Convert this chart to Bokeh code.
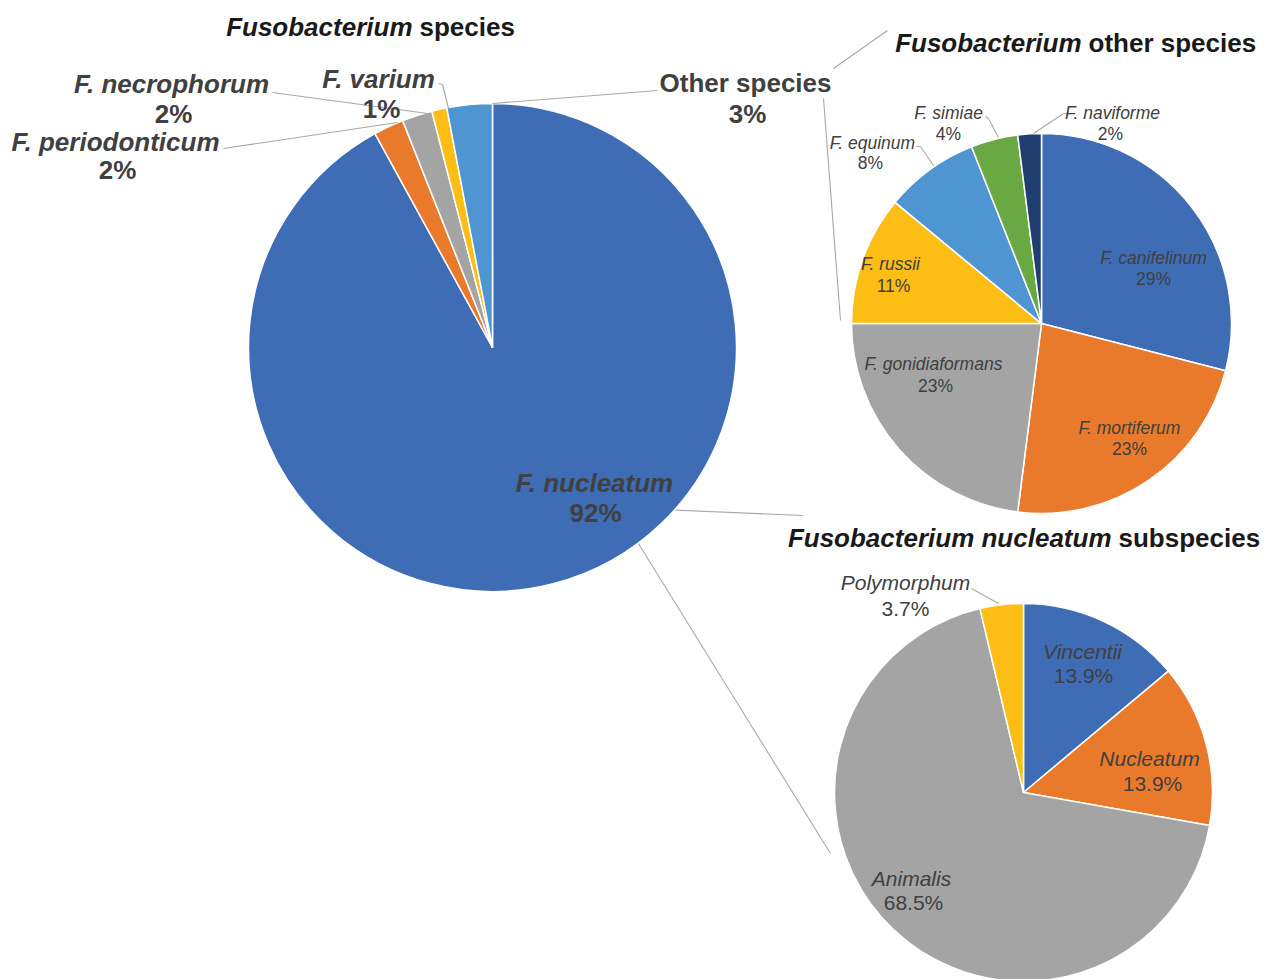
import math
from bokeh.plotting import figure
from bokeh.models import Range1d, ColumnDataSource
from bokeh.core.properties import value
from bokeh.embed import file_html
from bokeh.resources import INLINE

W, H = 1265, 979

# ---- data -------------------------------------------------------------
species_names = ["F. nucleatum", "F. periodonticum", "F. necrophorum", "F. varium", "Other species"]
species_pct = [92, 2, 2, 1, 3]

other_names = ["F. canifelinum", "F. mortiferum", "F. gonidiaformans", "F. russii",
               "F. equinum", "F. simiae", "F. naviforme"]
other_pct = [29, 23, 23, 11, 8, 4, 2]

subsp_names = ["Vincentii", "Nucleatum", "Animalis", "Polymorphum"]
subsp_pct = [13.9, 13.9, 68.5, 3.7]

# ---- styling ----------------------------------------------------------
BLUE, ORANGE, GRAY, YELLOW = "#3E6CB5", "#EA7A2B", "#A4A4A4", "#FCBE14"
LBLUE, GREEN, DBLUE = "#4F95D2", "#69A843", "#203F70"
species_colors = [BLUE, ORANGE, GRAY, YELLOW, LBLUE]
other_colors = [BLUE, ORANGE, GRAY, YELLOW, LBLUE, GREEN, DBLUE]
subsp_colors = [BLUE, ORANGE, GRAY, YELLOW]

FONT = value("Liberation Sans")
LABEL_COLOR = "#404040"
TITLE_COLOR = "#1A1A1A"
LEADER = "#A8A8A8"


def Y(y):
    """Screen-style y (from the top) to data y."""
    return H - y


p = figure(width=W, height=H, x_range=Range1d(0, W), y_range=Range1d(0, H),
           output_backend="svg", toolbar_location=None, min_border=0,
           x_axis_location=None, y_axis_location=None)
p.grid.visible = False
p.outline_line_color = None
p.background_fill_color = "white"


def pie(values, colors, cx, cy, r):
    total = float(sum(values))
    starts, ends = [], []
    cum = 0.0
    for v in values:
        a0 = math.pi / 2 - 2 * math.pi * cum / total
        cum += v
        a1 = math.pi / 2 - 2 * math.pi * cum / total
        starts.append(a1)
        ends.append(a0)
    src = ColumnDataSource(dict(start=starts, end=ends, color=colors))
    p.wedge(x=cx, y=Y(cy), radius=r, start_angle="start", end_angle="end",
            direction="anticlock", fill_color="color", line_color="white",
            line_width=1.5, source=src)


def label(x, y, txt, size, style="normal", color=LABEL_COLOR, align="center"):
    p.text(x=[x], y=[Y(y)], text=[txt], text_font=FONT, text_font_size=f"{size}px",
           text_font_style=style, text_color=color, text_align=align,
           text_baseline="middle")


def line(x0, y0, x1, y1):
    p.line([x0, x1], [Y(y0), Y(y1)], line_color=LEADER, line_width=1.1)


def pct(v):
    return f"{v:g}%"


# ---- connector lines (drawn beneath the pies) ---------------------------
line(833, 68, 887, 30)
line(823, 98, 840, 320)
line(637, 508, 802, 515)
line(628, 527, 830, 853)

# ---- pies ---------------------------------------------------------------
pie(species_pct, species_colors, 492, 347, 244)
pie(other_pct, other_colors, 1041, 323, 190)
pie(subsp_pct, subsp_colors, 1023, 792, 189)

# ---- leader lines ------------------------------------------------------
line(272, 92, 427, 113)     # F. necrophorum
line(223, 148, 397, 122)    # F. periodonticum
line(438, 83, 442, 84)
line(442, 84, 448, 108)     # F. varium
line(492, 103, 657, 90)     # Other species
line(916, 146, 920, 146)
line(920, 146, 933, 165)    # F. equinum
line(985, 116, 988, 118)
line(988, 118, 998, 137)    # F. simiae
line(1066, 113, 1063, 113)
line(1063, 113, 1033, 133)  # F. naviforme
line(971, 588, 998, 603)    # Polymorphum

# ---- titles (italic genus, upright remainder) ----------------------------
label(412, 26, "Fusobacterium", 26, "bold italic", TITLE_COLOR, "right")
label(419, 26, "species", 26, "bold", TITLE_COLOR, "left")
label(1081, 42, "Fusobacterium", 26, "bold italic", TITLE_COLOR, "right")
label(1088, 42, "other species", 26, "bold", TITLE_COLOR, "left")
label(1111, 537, "Fusobacterium nucleatum", 26, "bold italic", TITLE_COLOR, "right")
label(1118, 537, "subspecies", 26, "bold", TITLE_COLOR, "left")

# ---- main pie labels -----------------------------------------------------
main_pos = [(594, 482, 595, 512), (115, 141, 117, 169), (171, 83, 173, 113),
            (378, 78, 381, 108), (745, 82, 747, 113)]
for name, v, (nx, ny, vx, vy) in zip(species_names, species_pct, main_pos):
    style = "bold" if name == "Other species" else "bold italic"
    label(nx, ny, name, 26, style)
    label(vx, vy, pct(v), 26, "bold")

# ---- other species labels ------------------------------------------------
other_pos = [(1153, 257, 1153, 278), (1129, 427, 1129, 448), (933, 363, 935, 385),
             (890, 263, 893, 285), (872, 142, 870, 162), (948, 112, 948, 133),
             (1112, 112, 1110, 133)]
for name, v, (nx, ny, vx, vy) in zip(other_names, other_pct, other_pos):
    label(nx, ny, name, 17.5, "italic")
    label(vx, vy, pct(v), 17.5)

# ---- subspecies labels --------------------------------------------------
subsp_pos = [(1082, 651, 1083, 675), (1149, 758, 1152, 783), (911, 878, 913, 902),
             (905, 582, 905, 608)]
for name, v, (nx, ny, vx, vy) in zip(subsp_names, subsp_pct, subsp_pos):
    label(nx, ny, name, 21, "italic")
    label(vx, vy, pct(v), 21)

open("out.html", "w").write(file_html(p, INLINE))
